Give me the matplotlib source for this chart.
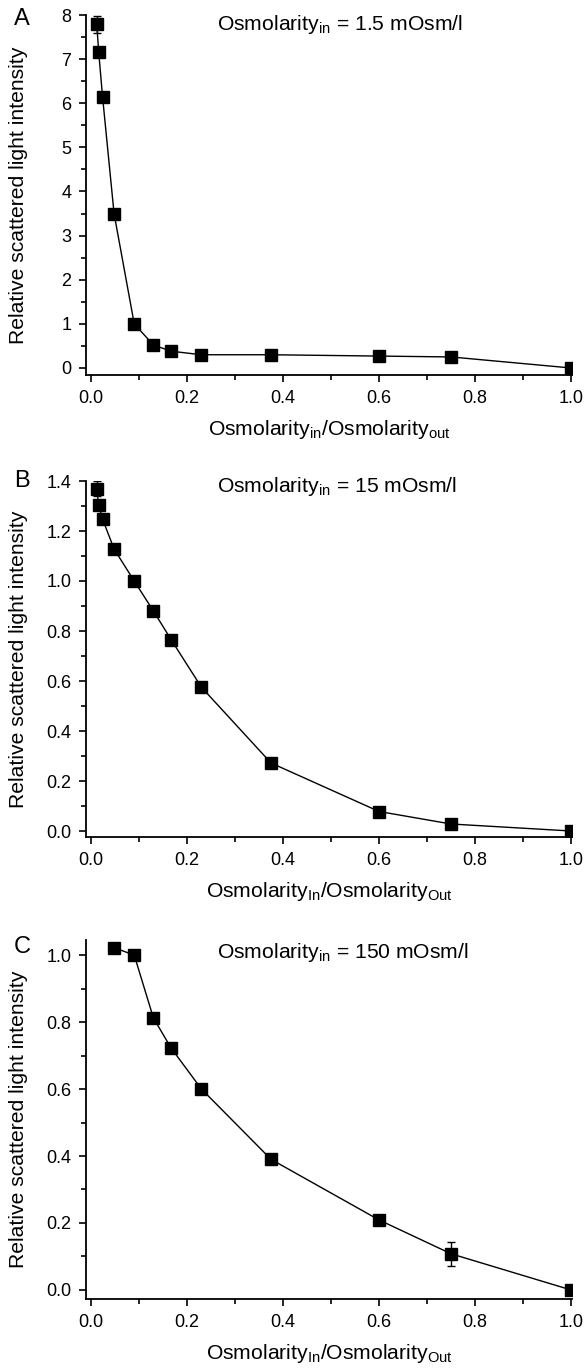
import numpy as np
import matplotlib
matplotlib.use("Agg")
import matplotlib.pyplot as plt
from matplotlib.ticker import MultipleLocator

plt.rcParams['font.family'] = ['Liberation Sans', 'DejaVu Sans']
plt.rcParams['mathtext.default'] = 'regular'

# panel A: Osmolarity_in = 1.5 mOsm/l
xa = [0.012, 0.016, 0.024, 0.048, 0.09, 0.13, 0.167, 0.23, 0.375, 0.6, 0.75, 1.0]
ya = [7.79, 7.16, 6.15, 3.5, 1.0, 0.52, 0.38, 0.3, 0.3, 0.27, 0.25, 0.0]
ea = [0.19, 0.1, 0.08, 0.04, 0.03, 0.03, 0.03, 0.02, 0.02, 0.02, 0.02, 0.0]

# panel B: Osmolarity_in = 15 mOsm/l
xb = [0.012, 0.016, 0.024, 0.048, 0.09, 0.13, 0.167, 0.23, 0.375, 0.6, 0.75, 1.0]
yb = [1.368, 1.304, 1.248, 1.128, 1.0, 0.88, 0.765, 0.575, 0.272, 0.078, 0.028, 0.0]
eb = [0.03, 0.02, 0.015, 0.01, 0.0, 0.01, 0.01, 0.01, 0.01, 0.01, 0.01, 0.0]

# panel C: Osmolarity_in = 150 mOsm/l
xc = [0.048, 0.09, 0.13, 0.167, 0.23, 0.375, 0.6, 0.75, 1.0]
yc = [1.022, 1.0, 0.812, 0.722, 0.6, 0.39, 0.209, 0.108, 0.0]
ec = [0.005, 0.0, 0.01, 0.01, 0.01, 0.01, 0.015, 0.035, 0.0]

panels = [
    ('A', xa, ya, ea, '1.5', 'in', 'out', (-0.159, 8.0), 1, 0.5,
     [0.1468, 1 - 375/1368, 0.8294, 360/1368], 0.975),
    ('B', xb, yb, eb, '15', 'In', 'Out', (-0.024, 1.4), 0.2, 0.1,
     [0.1468, 1 - 837/1368, 0.8294, 356/1368], 0.985),
    ('C', xc, yc, ec, '150', 'In', 'Out', (-0.027, 1.045), 0.2, 0.1,
     [0.1468, 1 - 1299/1368, 0.8294, 359/1368], 0.965),
]

fig = plt.figure(figsize=(5.86, 13.68), dpi=100)

for lab, x, y, e, osm, sin, sout, ylim, maj, mnr, pos, ty in panels:
    ax = fig.add_axes(pos)
    ax.errorbar(x, y, yerr=e, color='black', lw=1.0, marker='s', ms=8.5,
                mfc='black', mec='black', capsize=3, elinewidth=1.0, capthick=1.0)
    ax.set_xlim(-0.0104, 1.002)
    ax.set_ylim(*ylim)
    ax.xaxis.set_major_locator(MultipleLocator(0.2))
    ax.xaxis.set_minor_locator(MultipleLocator(0.1))
    ax.yaxis.set_major_locator(MultipleLocator(maj))
    ax.yaxis.set_minor_locator(MultipleLocator(mnr))
    if lab == 'A':
        ax.yaxis.set_major_formatter(plt.FormatStrFormatter('%d'))
    else:
        ax.yaxis.set_major_formatter(plt.FormatStrFormatter('%.1f'))
    ax.xaxis.set_major_formatter(plt.FormatStrFormatter('%.1f'))
    for s in ['top', 'right']:
        ax.spines[s].set_visible(False)
    for s in ['left', 'bottom']:
        ax.spines[s].set_linewidth(1.3)
    ax.tick_params(which='major', direction='out', length=5, width=1.2, pad=5.5, labelsize=13)
    ax.tick_params(which='minor', direction='out', length=3.5, width=1.2)
    ax.set_ylabel('Relative scattered light intensity', fontsize=15.2)
    ax.yaxis.set_label_coords(-0.119, 0.5)
    ax.set_xlabel('Osmolarity$_{%s}$/Osmolarity$_{%s}$' % (sin, sout), fontsize=15.2, labelpad=8)
    ax.text(0.27, ty, 'Osmolarity$_{in}$ = %s mOsm/l' % osm, transform=ax.transAxes,
            fontsize=15.2, va='center', ha='left')
    ax.text(-0.132, ty + 0.015, lab, transform=ax.transAxes, fontsize=17, va='center', ha='center')

fig.savefig('out.png', dpi=100)
